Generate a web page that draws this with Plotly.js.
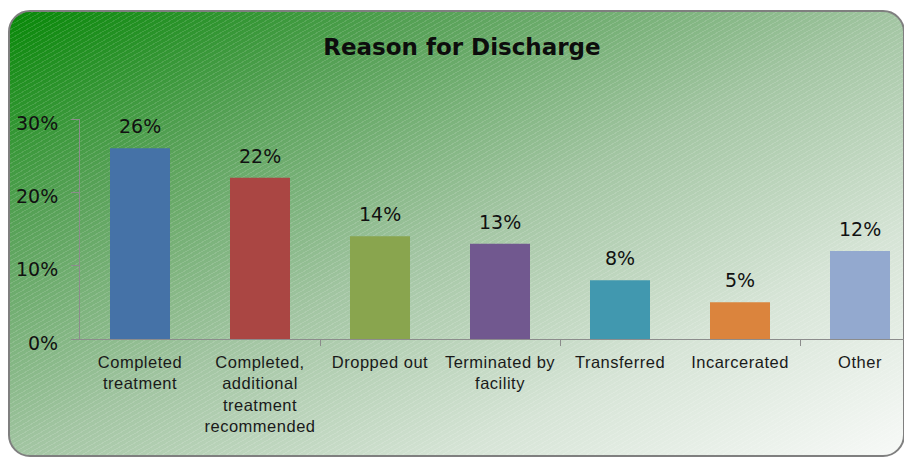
<!DOCTYPE html>
<html>
<head>
<meta charset="utf-8">
<script src="https://cdn.plot.ly/plotly-3.0.1.min.js"></script>
<style>
  html, body { margin: 0; padding: 0; background: #ffffff; }
  #frame {
    position: absolute; left: 8px; top: 10px; width: 897px; height: 447px;
    box-sizing: border-box; border: 2px solid #7f7f7f; border-radius: 22px;
    background:
      repeating-linear-gradient(150deg, rgba(255,255,255,0) 0px, rgba(255,255,255,0) 3px, rgba(255,255,255,0.13) 3px, rgba(255,255,255,0.13) 4px),
      linear-gradient(to bottom right, #078807 0%, #56a156 24%, #a2c5a2 50%, #d6e4d6 75%, #f7f9f7 100%);
  }
  #chart { position: absolute; left: 0; top: 0; width: 904px; height: 458px; }
  #chart .xaxislayer-above .xtick text { letter-spacing: 0.5px; }
</style>
</head>
<body>
<div id="frame"></div>
<div id="chart"></div>
<script>
// Discharge reasons and their share of all discharges
const categories = [
  'Completed<br>treatment',
  'Completed,<br>additional<br>treatment<br>recommended',
  'Dropped out',
  'Terminated by<br>facility',
  'Transferred',
  'Incarcerated',
  'Other'
];
const shares = [0.26, 0.22, 0.14, 0.13, 0.08, 0.05, 0.12];
const barColors = ['#4572A7', '#AA4643', '#89A54E', '#71588F', '#4198AF', '#DB843D', '#93A9CF'];
const yTickVals = [0, 0.1, 0.2, 0.3];
const yTickText = ['0%', '10%', '20%', '30%'];
// every second category boundary carries a tick mark
const xBoundaryTicks = [1.5, 3.5, 5.5];

const axisGray = '#8c8c8c';
const xRange = [-0.5, 6.3667];

const bars = {
  type: 'bar',
  x: categories,
  y: shares,
  marker: { color: barColors, line: { width: 0 } },
  width: 0.5,
  hoverinfo: 'skip',
  cliponaxis: false
};

const valueLabels = shares.map((v, i) => ({
  xref: 'x', yref: 'y',
  x: i, y: v,
  text: Math.round(v * 100) + '%',
  showarrow: false,
  yanchor: 'middle',
  yshift: 22,
  font: { family: 'DejaVu Sans', size: 19, color: '#111111' }
}));

const layout = {
  width: 904, height: 458,
  margin: { l: 80, r: 0, t: 119, b: 119 },
  paper_bgcolor: 'rgba(0,0,0,0)',
  plot_bgcolor: 'rgba(0,0,0,0)',
  showlegend: false,
  title: {
    text: 'Reason for Discharge',
    font: { family: 'DejaVu Sans', size: 23, weight: 'bold', color: '#0d0d0d' },
    xref: 'container', yref: 'container',
    x: 0.511, xanchor: 'center',
    y: 1 - 47 / 458, yanchor: 'middle'
  },
  xaxis: {
    type: 'category',
    range: xRange,
    showline: true, linecolor: axisGray, linewidth: 1,
    ticks: '', showgrid: false, zeroline: false,
    tickfont: { family: 'Liberation Sans', size: 16.5, color: '#1a1a1a' },
    ticklabelstandoff: 8,
    fixedrange: true
  },
  xaxis2: {
    overlaying: 'x', anchor: 'y', side: 'bottom',
    type: 'linear', range: xRange,
    tickmode: 'array', tickvals: xBoundaryTicks,
    ticks: 'outside', ticklen: 6, tickwidth: 1, tickcolor: axisGray,
    showticklabels: false, showgrid: false, zeroline: false, showline: false,
    fixedrange: true
  },
  yaxis: {
    range: [0, 0.3],
    tickmode: 'array', tickvals: yTickVals, ticktext: yTickText,
    ticks: 'outside', ticklen: 8, tickwidth: 1, tickcolor: axisGray,
    showline: true, linecolor: axisGray, linewidth: 1,
    showgrid: false, zeroline: false,
    tickfont: { family: 'DejaVu Sans', size: 19, color: '#111111' },
    ticklabelstandoff: 9,
    ticklabelshift: 4,
    fixedrange: true
  },
  annotations: valueLabels
};

// an empty trace attaches the tick-only axis
const boundaryAxis = { type: 'scatter', x: [], y: [], xaxis: 'x2', yaxis: 'y', hoverinfo: 'skip' };

Plotly.newPlot('chart', [bars, boundaryAxis], layout, { displayModeBar: false, staticPlot: true });
</script>
</body>
</html>
